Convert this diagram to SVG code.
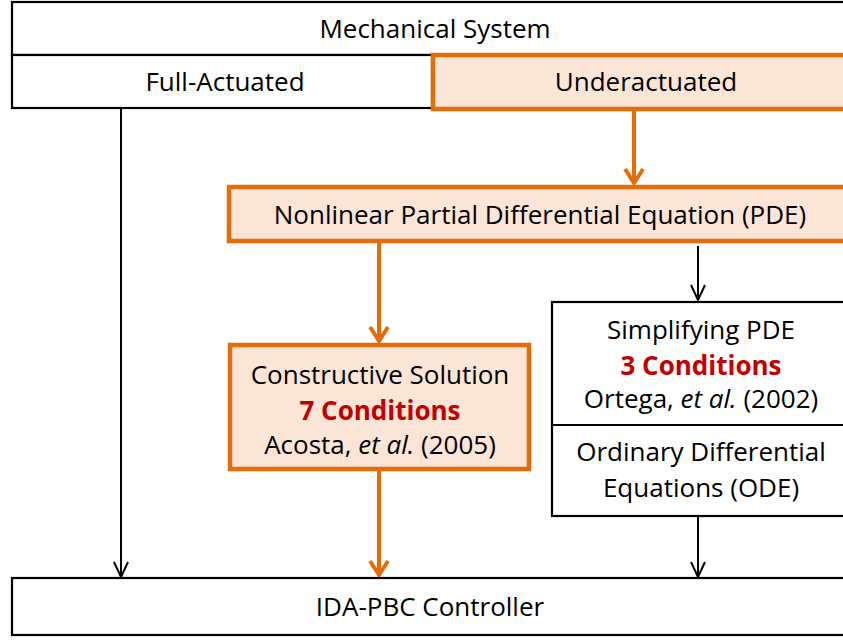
<svg xmlns="http://www.w3.org/2000/svg" width="843" height="641" viewBox="0 0 843 641">
  <style>
    text { font-family: "Open Sans", Lato, "Liberation Sans", sans-serif; font-size: 26px; fill: #000; text-anchor: middle; }
    .red { fill: #C00000; font-weight: bold; }
    .plain { fill: #FFFFFF; stroke: #000; stroke-width: 2.2; }
    .hot { fill: #FBE5D6; stroke: #E46C0A; stroke-width: 4.5; }
    .edge { fill: none; stroke: #000; stroke-width: 2; }
    .edge-hot { fill: none; stroke: #E46C0A; stroke-width: 4; }
  </style>
  <defs>
    <marker id="vBlack" markerUnits="userSpaceOnUse" viewBox="-17 -9 19 18" refX="0" refY="0" markerWidth="19" markerHeight="18" orient="auto">
      <path d="M-15,-7 L0,0 L-15,7" fill="none" stroke="#000" stroke-width="2"/>
    </marker>
    <marker id="vHot" markerUnits="userSpaceOnUse" viewBox="-18 -12 20 24" refX="0" refY="0" markerWidth="20" markerHeight="24" orient="auto">
      <path d="M-15,-9 L-1,0 L-15,9" fill="none" stroke="#E46C0A" stroke-width="4"/>
    </marker>
  </defs>

  <!-- connectors -->
  <g id="connectors">
    <line class="edge" x1="121" y1="108" x2="121" y2="577" marker-end="url(#vBlack)"/>
    <line class="edge-hot" x1="634" y1="111" x2="634" y2="184" marker-end="url(#vHot)"/>
    <line class="edge-hot" x1="379" y1="243" x2="379" y2="342" marker-end="url(#vHot)"/>
    <line class="edge" x1="698" y1="246" x2="698" y2="300" marker-end="url(#vBlack)"/>
    <line class="edge-hot" x1="379" y1="471" x2="379" y2="576" marker-end="url(#vHot)"/>
    <line class="edge" x1="698" y1="516" x2="698" y2="577" marker-end="url(#vBlack)"/>
  </g>

  <g id="mechanical-system">
    <rect class="plain" x="12" y="2" width="850" height="53"/>
    <text x="435" y="38">Mechanical System</text>
  </g>

  <g id="full-actuated">
    <rect class="plain" x="12" y="55" width="420" height="53"/>
    <text x="225" y="91">Full-Actuated</text>
  </g>

  <g id="underactuated">
    <rect class="hot" x="433" y="55" width="430" height="54"/>
    <text x="646" y="91">Underactuated</text>
  </g>

  <g id="nonlinear-pde">
    <rect class="hot" x="229" y="187" width="630" height="54"/>
    <text x="540" y="224">Nonlinear Partial Differential Equation (PDE)</text>
  </g>

  <g id="constructive-solution">
    <rect class="hot" x="230" y="345" width="299" height="124"/>
    <text x="380" y="384">Constructive Solution</text>
    <text class="red" x="380" y="420">7 Conditions</text>
    <text x="380" y="454">Acosta, <tspan font-style="italic">et al.</tspan> (2005)</text>
  </g>

  <g id="simplifying-pde">
    <rect class="plain" x="552" y="302" width="310" height="214"/>
    <line class="edge" x1="552" y1="425" x2="862" y2="425"/>
    <text x="701" y="339">Simplifying PDE</text>
    <text class="red" x="701" y="375">3 Conditions</text>
    <text x="701" y="408">Ortega, <tspan font-style="italic">et al.</tspan> (2002)</text>
    <text x="701" y="461">Ordinary Differential</text>
    <text x="701" y="497">Equations (ODE)</text>
  </g>

  <g id="ida-pbc-controller">
    <rect class="plain" x="12" y="578" width="850" height="57"/>
    <text x="430" y="616">IDA-PBC Controller</text>
  </g>
</svg>
